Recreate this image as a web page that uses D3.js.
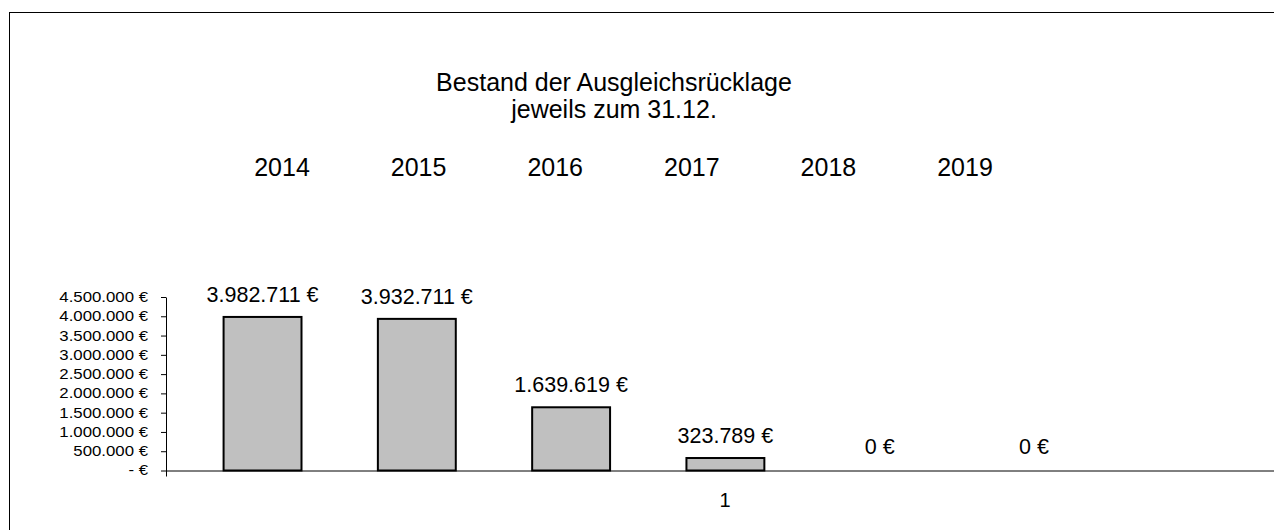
<!DOCTYPE html>
<html><head><meta charset="utf-8">
<script src="https://cdn.jsdelivr.net/npm/d3@7"></script>
<style>
html,body{margin:0;padding:0;background:#fff;overflow:hidden;width:1274px;height:530px;}
svg{display:block;font-family:"Liberation Sans",Arial,sans-serif;}
</style></head>
<body>
<svg id="chart" width="1274" height="530"></svg>
<script>
const titleLines = ["Bestand der Ausgleichsrücklage", "jeweils zum 31.12."];
const years = ["2014", "2015", "2016", "2017", "2018", "2019"];
const values = [3982711, 3932711, 1639619, 323789, 0, 0];
const category = ["1"];
const seriesSlots = years.concat([""]); // 7th empty series slot
const yTicks = [0, 500000, 1000000, 1500000, 2000000, 2500000, 3000000, 3500000, 4000000, 4500000];

const svg = d3.select("#chart");
const W = 1274, H = 530;
const loc = d3.formatLocale({decimal: ",", thousands: ".", grouping: [3], currency: ["", " €"]});
const fmt = v => v === 0 ? "0 €" : loc.format(",.0f")(v) + " €";
const fmtAxis = v => v === 0 ? "- €" : loc.format(",.0f")(v) + " €";

// frame (top and left edges visible)
svg.append("line").attr("x1", 9.5).attr("x2", 9.5).attr("y1", 12).attr("y2", H).attr("stroke", "#000");
svg.append("line").attr("x1", 9).attr("x2", W).attr("y1", 12.5).attr("y2", 12.5).attr("stroke", "#000");

// title
const title = svg.append("text").attr("text-anchor", "middle").attr("font-size", 25).attr("fill", "#000");
titleLines.forEach((t, i) => title.append("tspan").attr("x", 614).attr("y", 91 + i * 27).text(t));

// legend (text only)
const legX = d3.scalePoint().domain(years).range([282, 965]);
svg.append("g").selectAll("text").data(years).join("text")
  .attr("x", d => legX(d)).attr("y", 176).attr("text-anchor", "middle")
  .attr("font-size", 25).attr("fill", "#000").text(d => d);

// scales
const plotL = 166, plotR = 1284, y0 = 470.5, yTop = 297;
const x0 = d3.scaleBand().domain(category).range([plotL, plotR]);
const x1 = d3.scaleBand().domain(seriesSlots).range([19.4, x0.bandwidth() - 18.6]).paddingInner(0.495).paddingOuter(0.2475);
const y = d3.scaleLinear().domain([0, 4500000]).range([y0, yTop]);

// y axis
const sx = 1.2;
const yAxis = svg.append("g").attr("transform", `translate(${plotL},0)`)
  .call(d3.axisLeft(y).tickValues(yTicks).tickFormat(fmtAxis).tickSizeInner(5).tickSizeOuter(0).tickPadding(13));
yAxis.select(".domain").attr("stroke", "#000");
yAxis.selectAll(".tick line").attr("stroke", "#000");
yAxis.selectAll(".tick text").attr("font-family", "Liberation Sans, Arial, sans-serif")
  .attr("font-size", 14).attr("fill", "#000")
  .attr("x", -18 / sx).attr("transform", `scale(${sx},1)`);
yAxis.attr("font-size", null).attr("font-family", null);

// x axis (category axis; outer tick marks at plot edges)
const xAxis = svg.append("g").attr("transform", `translate(0,${y0})`)
  .call(d3.axisBottom(x0).tickSizeInner(0).tickSizeOuter(6).tickPadding(22));
xAxis.select(".domain").attr("stroke", "#000");
xAxis.selectAll(".tick text").attr("font-family", "Liberation Sans, Arial, sans-serif")
  .attr("font-size", 20).attr("fill", "#000");
xAxis.attr("font-size", null).attr("font-family", null);

// bars
const barData = years.map((yr, i) => ({yr, v: values[i]}));
const gBars = svg.append("g").attr("transform", `translate(${x0("1")},0)`);
gBars.selectAll("rect").data(barData).join("rect")
  .attr("x", d => x1(d.yr)).attr("width", x1.bandwidth())
  .attr("y", d => y(d.v)).attr("height", d => y0 - y(d.v))
  .attr("fill", "#c0c0c0").attr("stroke", "#000").attr("stroke-width", 2)
  .attr("display", d => d.v > 0 ? null : "none");
gBars.selectAll("text").data(barData).join("text")
  .attr("x", d => x1(d.yr) + x1.bandwidth() / 2)
  .attr("y", d => y(d.v) - (d.v > 0 ? 15 : 17))
  .attr("text-anchor", "middle").attr("font-size", 21.5).attr("fill", "#000")
  .text(d => fmt(d.v));
</script>
</body></html>
